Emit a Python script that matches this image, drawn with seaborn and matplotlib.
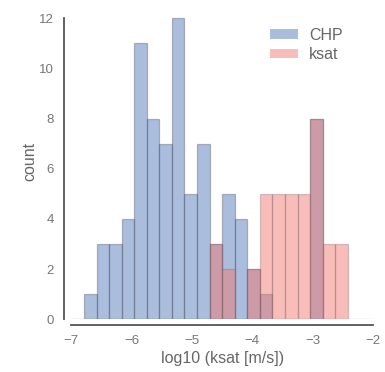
import numpy as np
import pandas as pd
import matplotlib
matplotlib.use("Agg")
import matplotlib.pyplot as plt
from matplotlib.patches import Patch
import seaborn as sns

# Histogram bins: 24 equal bins over log10(ksat) from -7 to -2
bin_edges = np.linspace(-7, -2, 25)
bin_centers = (bin_edges[:-1] + bin_edges[1:]) / 2

# Counts per bin (CHP covers the first 21 bins, ksat all 24)
chp_counts = [0, 1, 3, 3, 4, 11, 8, 7, 12, 5, 7, 3, 5, 4, 2, 1, 0, 0, 0, 8, 0]
ksat_counts = [0, 0, 0, 0, 0, 0, 0, 0, 0, 0, 0,
               3, 2, 0, 2, 5, 5, 5, 5, 8, 3, 3, 0, 0]

series_names = ["CHP", "ksat"]
series_colors = ["#5075B8", "#F4766D"]

x_ticks = [-7, -6, -5, -4, -3, -2]
y_ticks = [0, 2, 4, 6, 8, 10, 12]

sns.set_style("white")
plt.rcParams["font.family"] = ["Liberation Sans", "DejaVu Sans"]

fig = plt.figure(figsize=(3.85, 3.72), dpi=100)
ax = fig.add_axes([0.1855, 0.1417, 0.7831, 0.850])

n_chp = len(chp_counts)
chp_df = pd.DataFrame({"value": bin_centers[:n_chp], "count": chp_counts})
ksat_df = pd.DataFrame({"value": bin_centers, "count": ksat_counts})

sns.histplot(data=chp_df, x="value", weights="count",
             bins=n_chp, binrange=(bin_edges[0], bin_edges[n_chp]),
             color=series_colors[0], alpha=0.48,
             edgecolor=(0.25, 0.27, 0.33, 0.35), linewidth=0.9, ax=ax)
sns.histplot(data=ksat_df, x="value", weights="count",
             bins=len(ksat_counts), binrange=(bin_edges[0], bin_edges[-1]),
             color=series_colors[1], alpha=0.48,
             edgecolor=(0.45, 0.35, 0.38, 0.3), linewidth=0.9, ax=ax)

ax.set_xlim(-7, -2)
ax.set_ylim(0, 12.6)
ax.set_xticks(x_ticks)
ax.set_yticks(y_ticks)
ax.set_xticklabels([f"\u2212{abs(t)}" if t < 0 else str(t) for t in x_ticks])

ax.tick_params(axis="both", length=0, labelsize=9.5, colors="#777777")
ax.tick_params(axis="y", pad=7)
ax.tick_params(axis="x", pad=7)

ax.set_xlabel("log10 (ksat [m/s])", fontsize=11.5, color="#666666", labelpad=3)
ax.set_ylabel("count", fontsize=11.5, color="#666666", labelpad=1)

for side in ["top", "right"]:
    ax.spines[side].set_visible(False)
ax.spines["left"].set_position(("outward", 5.7))
ax.spines["bottom"].set_position(("outward", 4.2))
ax.spines["left"].set_bounds(0, 12)
ax.spines["bottom"].set_bounds(-7, -2)
for side in ["left", "bottom"]:
    ax.spines[side].set_color("#555555")
    ax.spines[side].set_linewidth(1.3)

handles = [Patch(facecolor=c, alpha=0.48, edgecolor="none") for c in series_colors]
fig.legend(handles, series_names, loc="upper left",
           bbox_to_anchor=(270 / 385, (372 - 27.5) / 372),
           frameon=False, fontsize=11.5, borderpad=0, borderaxespad=0,
           handlelength=1.73, handleheight=0.53, handletextpad=0.7,
           labelspacing=0.3, labelcolor="#666666")

fig.savefig("out.png", dpi=100)
